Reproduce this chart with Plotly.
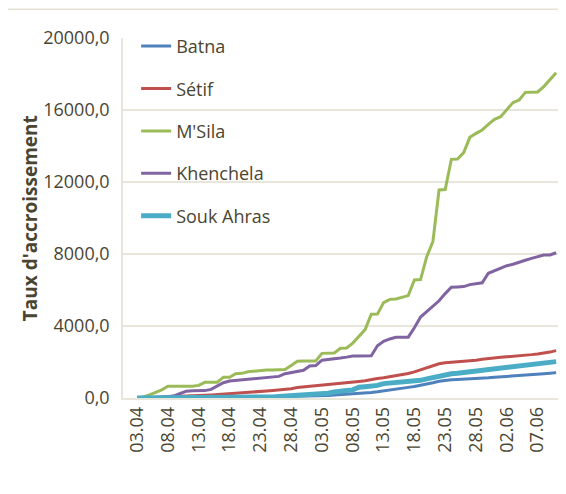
import pandas as pd
import plotly.graph_objects as go

# daily values, 03.04 -> 10.06
dates = pd.date_range("2020-04-03", periods=69, freq="D")

batna = [0, 0, 0, 5, 5, 10, 10, 10, 15, 15, 20, 20, 25, 25, 30, 30, 35, 40, 45, 50,
         55, 60, 65, 70, 75, 80, 85, 90, 100, 110, 120, 140, 160, 180, 200, 220, 250,
         280, 310, 350, 390, 430, 480, 540, 590, 640, 700, 780, 850, 930, 990, 1010,
         1030, 1040, 1060, 1080, 1100, 1120, 1150, 1170, 1190, 1210, 1240, 1270, 1290,
         1320, 1350, 1380, 1410]
setif = [0, 10, 20, 30, 40, 50, 60, 70, 90, 110, 130, 150, 170, 190, 210, 240, 260,
         280, 300, 330, 360, 390, 420, 440, 470, 520, 580, 610, 640, 680, 720, 750, 790,
         820, 850, 880, 920, 960, 1030, 1080, 1120, 1170, 1230, 1300, 1360, 1450, 1560,
         1680, 1800, 1900, 1960, 1980, 2000, 2030, 2060, 2100, 2150, 2200, 2230, 2260,
         2290, 2310, 2340, 2370, 2410, 2450, 2490, 2550, 2630]
msila = [0, 60, 170, 300, 450, 650, 650, 650, 650, 650, 700, 870, 870, 870, 1150, 1150,
         1350, 1370, 1460, 1500, 1560, 1560, 1560, 1560, 1580, 1800, 2040, 2050, 2060,
         2060, 2480, 2480, 2500, 2760, 2780, 3050, 3450, 3800, 4650, 4660, 5300, 5480,
         5500, 5600, 5690, 6560, 6580, 7850, 8690, 11560, 11580, 13260, 13280, 13630,
         14480, 14700, 14890, 15200, 15480, 15630, 16000, 16410, 16560, 16980, 16990,
         17000, 17300, 17680, 18070]
khenchela = [0, 0, 10, 20, 40, 70, 120, 250, 380, 400, 400, 410, 480, 650, 850, 940,
             970, 1000, 1030, 1060, 1080, 1140, 1160, 1200, 1350, 1400, 1450, 1540, 1780,
             1800, 2100, 2130, 2170, 2220, 2270, 2330, 2330, 2330, 2350, 2900, 3150, 3280,
             3370, 3380, 3380, 3900, 4500, 4800, 5100, 5400, 5800, 6150, 6170, 6190,
             6300, 6330, 6400, 6930, 7080, 7230, 7350, 7430, 7520, 7650, 7760, 7850,
             7940, 7950, 8070]
souk_ahras = [0, 0, 0, 0, 5, 5, 5, 10, 10, 10, 15, 15, 20, 20, 25, 25, 30, 30, 35, 40,
              45, 50, 60, 80, 100, 120, 150, 180, 200, 220, 240, 270, 330, 400, 420, 450,
              600, 630, 660, 700, 800, 820, 840, 860, 900, 920, 980, 1060, 1140, 1220,
              1290, 1350, 1380, 1420, 1480, 1520, 1560, 1600, 1630, 1650, 1700, 1740,
              1780, 1800, 1830, 1880, 1920, 1960, 2020]

series = [
    ("Batna", batna, "#4F81BD", 3),
    ("Sétif", setif, "#C0504D", 3),
    ("M'Sila", msila, "#9BBB59", 3),
    ("Khenchela", khenchela, "#8064A2", 3),
    ("Souk Ahras", souk_ahras, "#4BACC6", 5),
]

y_ticks = [0, 4000, 8000, 12000, 16000, 20000]
y_tick_text = ["0,0", "4000,0", "8000,0", "12000,0", "16000,0", "20000,0"]

TEXT = "#4A4530"
GRID = "#E8E5DA"
FONT = "Open Sans"

fig = go.Figure()
for name, vals, color, width in series:
    fig.add_trace(
        go.Scatter(
            x=dates,
            y=vals,
            mode="lines",
            name=name,
            legendgroup=name,
            line=dict(color=color, width=width),
        )
    )

x0 = dates[0] - pd.Timedelta(hours=55)
x1 = dates[-1] + pd.Timedelta(hours=19)

# page body adds an 8px offset, so the figure is 8px smaller than the window
fig.update_layout(
    width=558,
    height=486,
    margin=dict(l=115, r=5, t=30, b=96),
    paper_bgcolor="white",
    plot_bgcolor="white",
    font=dict(family=FONT, size=18, color=TEXT),
    showlegend=True,
    legend=dict(
        x=0.03, y=1.028, xanchor="left", yanchor="top",
        bgcolor="rgba(0,0,0,0)",
        font=dict(size=18, color=TEXT),
        tracegroupgap=16,
    ),
    shapes=[
        dict(type="rect", xref="paper", yref="paper",
             x0=-0.265, x1=1.2, y0=-0.5, y1=1.08,
             line=dict(color="#E6E2D6", width=1.5), layer="below"),
    ],
    annotations=[
        dict(text="<b>Taux d'accroissement</b>", xref="paper", yref="paper",
             x=-0.212, y=0.5, xanchor="center", yanchor="middle",
             textangle=-90, showarrow=False,
             font=dict(size=19, color=TEXT)),
    ],
)
fig.update_xaxes(
    type="date",
    range=[x0, x1],
    tick0=dates[0],
    dtick=5 * 86400000,
    tickformat="%d.%m",
    tickangle=-90,
    showgrid=False,
    showline=True,
    linecolor=GRID,
    linewidth=1.5,
    ticks="",
    automargin=False,
    tickfont=dict(size=18, color=TEXT),
)
fig.update_yaxes(
    range=[0, 20000],
    tickvals=y_ticks,
    ticktext=y_tick_text,
    showgrid=True,
    gridcolor=GRID,
    gridwidth=1.5,
    showline=True,
    linecolor=GRID,
    linewidth=1.5,
    zeroline=False,
    ticks="",
    automargin=False,
    ticklabelstandoff=8,
    tickfont=dict(size=18, color=TEXT),
)

fig.write_html("out.html")
